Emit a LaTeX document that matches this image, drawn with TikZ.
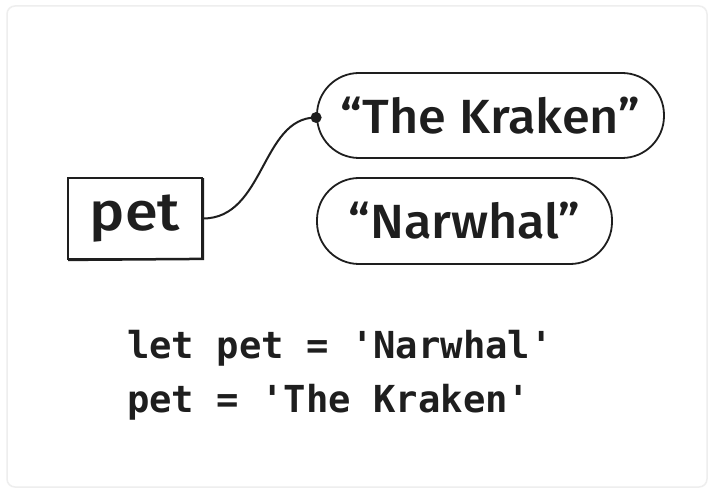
\documentclass[tikz,border=0pt]{standalone}
\usepackage{fontspec}
\setmainfont{Fira Sans}[UprightFont=* Medium]
\setmonofont{DejaVu Sans Mono}
\definecolor{ink}{HTML}{1E1E1E}
\definecolor{frame}{HTML}{EEEEEE}
\begin{document}
\begin{tikzpicture}[x=1pt,y=-1pt,
  lbl/.style={font=\fontsize{48}{54}\selectfont\addfontfeature{FakeStretch=1.05}, text=ink},
  valbox/.style={draw=ink, line width=1.8pt, rounded corners=42pt, inner sep=0pt},
  varbox/.style={draw=ink, line width=1.8pt, inner sep=0pt},
  code/.style={font=\ttfamily\bfseries\fontsize{37.2}{44}\selectfont, text=ink, anchor=base west, inner sep=0pt},
  link/.style={draw=ink, line width=2pt}]
\fill[white] (0,0) rectangle (714,494);
\useasboundingbox (0,0) rectangle (714,494);
\draw[frame, line width=1.5pt, rounded corners=8pt] (7,6) rectangle (707,487);
\node[varbox, minimum width=134pt, minimum height=81pt, lbl, font=\fontsize{54}{60}\selectfont\addfontfeature{FakeStretch=1.1}] (pet) at (135,218.5) {pet};
\draw[ink, line width=2.5pt] ([xshift=1pt]pet.south west) -- ([yshift=1pt]pet.south east) -- ([yshift=-1pt]pet.north east);
\node[valbox, minimum width=347pt, minimum height=85pt, lbl] (kraken) at (490.5,115.5) {“The Kraken”};
\node[valbox, minimum width=295pt, minimum height=86pt, lbl] (narwhal) at (464.5,221) {“Narwhal”};
\coordinate (kend) at ([yshift=-2pt]kraken.west);
\draw[link] (pet.east) .. controls +(62,0) and +(-55,0) .. (kend);
\fill[ink] (kend) circle (5.5pt);
\node[code] (l1) at (127,358) {let pet = 'Narwhal'};
\node[code] (l2) at (127,412) {pet = 'The Kraken'};
\end{tikzpicture}
\end{document}
